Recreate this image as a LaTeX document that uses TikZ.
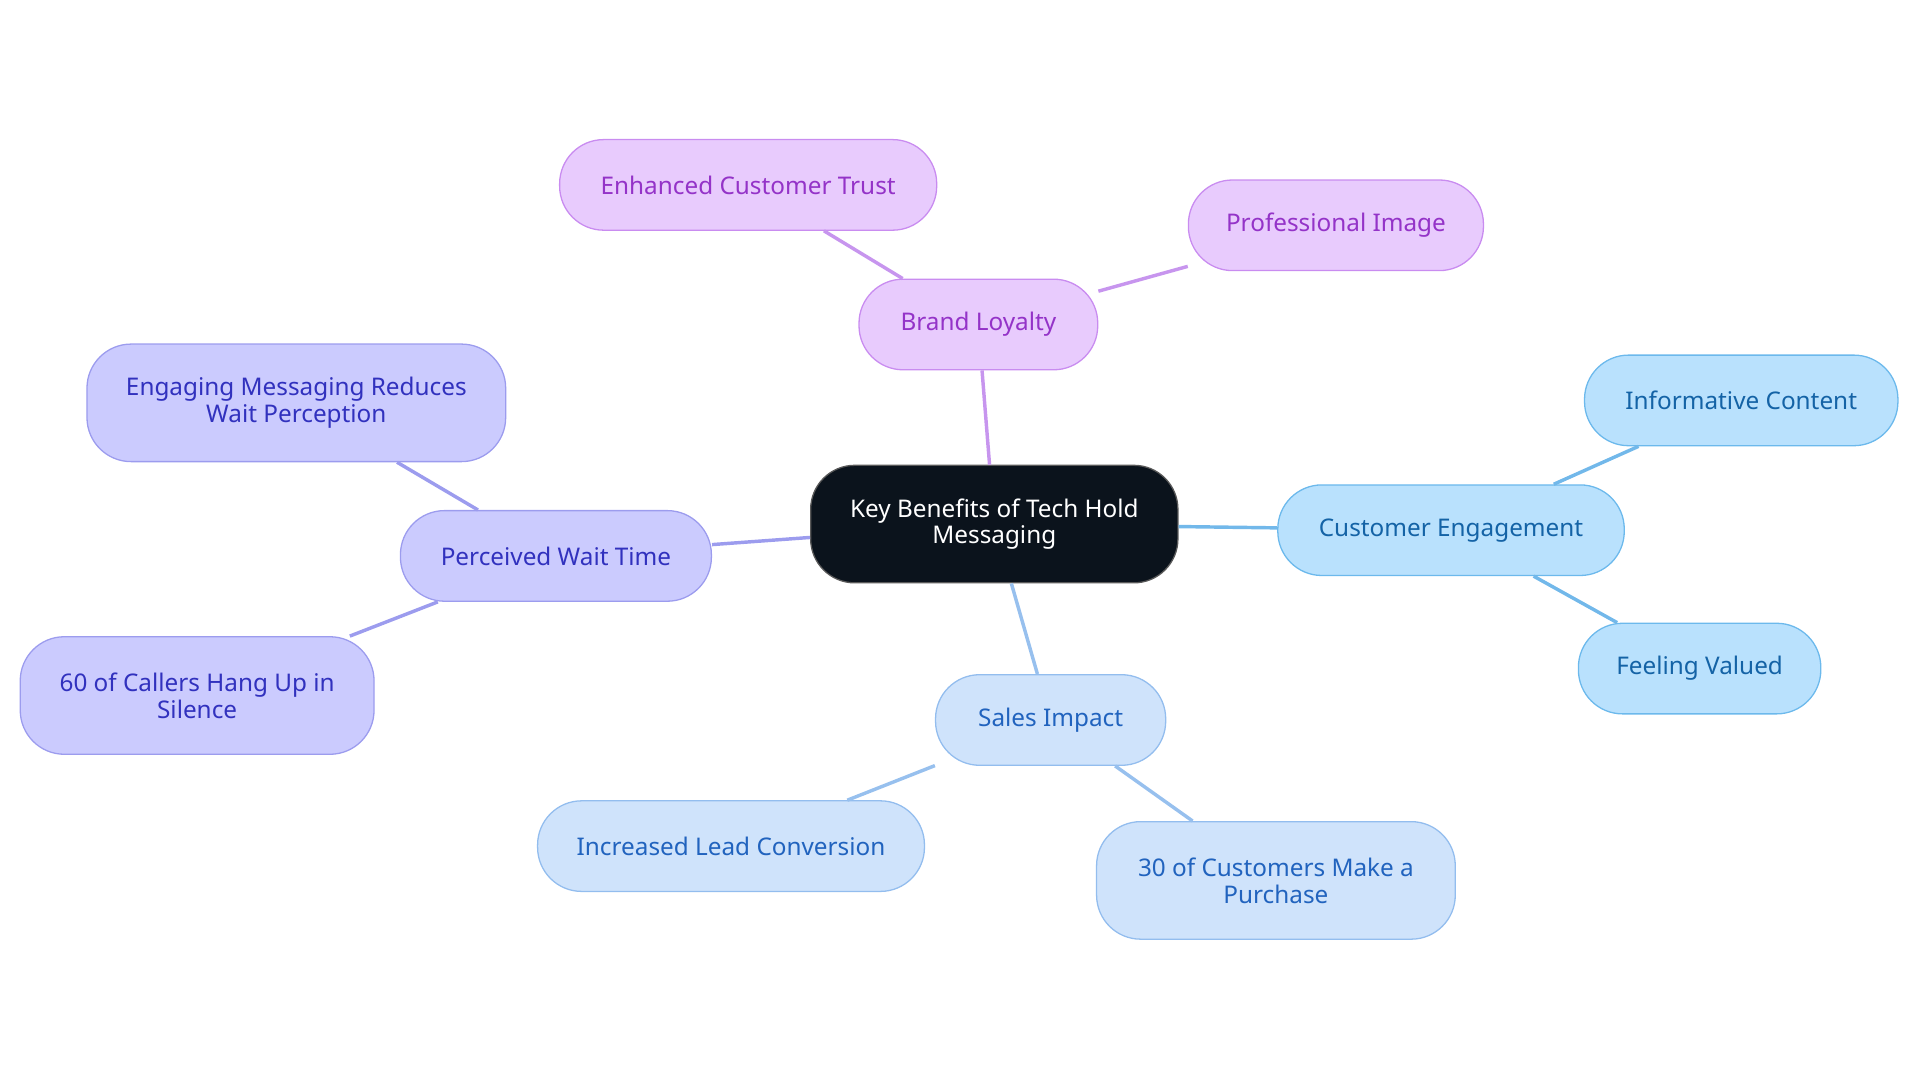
\documentclass[tikz,border=0pt]{standalone}
\usepackage{fontspec}
\setmainfont{Noto Sans}
\begin{document}
\begin{tikzpicture}[x=0.02cm,y=-0.02cm,
  base/.style={rounded corners=0.72cm,draw,line width=0.6pt,align=center,font=\fontsize{11.3}{12.5}\selectfont,inner sep=0pt,minimum height=1.48cm},
  tall/.style={minimum height=1.92cm},
  pu/.style={base,fill=pfill,draw=pdraw,text=ptext},
  cy/.style={base,fill=cfill,draw=cdraw,text=ctext},
  bl/.style={base,fill=bfill,draw=bdraw,text=btext},
  vi/.style={base,fill=vfill,draw=vdraw,text=vtext},
  lk/.style={line width=1.6pt}]
\definecolor{pfill}{HTML}{E8CBFD}\definecolor{pdraw}{HTML}{C98CF0}\definecolor{ptext}{HTML}{9433C8}
\definecolor{cfill}{HTML}{B9E1FD}\definecolor{cdraw}{HTML}{6CB9EC}\definecolor{ctext}{HTML}{1463A6}
\definecolor{bfill}{HTML}{CFE3FB}\definecolor{bdraw}{HTML}{93BDEE}\definecolor{btext}{HTML}{2163BE}
\definecolor{vfill}{HTML}{CBCBFE}\definecolor{vdraw}{HTML}{9C9CEE}\definecolor{vtext}{HTML}{3131BE}
\definecolor{dark}{HTML}{0B131C}
\definecolor{plk}{HTML}{C795EE}\definecolor{clk}{HTML}{72B8EA}\definecolor{blk}{HTML}{97C0EE}\definecolor{vlk}{HTML}{9C9CEE}
\useasboundingbox (0,0) rectangle (1568,884);
\node[base,tall,fill=dark,draw=gray!70!black,text=white,minimum width=6cm] (c) at (812,428) {Key Benefits of Tech Hold\\Messaging};
\node[pu,minimum width=3.9cm] (bl) at (799,265) {Brand Loyalty};
\node[pu,minimum width=6.16cm] (ect) at (611,151) {Enhanced Customer Trust};
\node[pu,minimum width=4.82cm] (pi) at (1091,184) {Professional Image};
\node[cy,minimum width=5.66cm] (ce) at (1185,433) {Customer Engagement};
\node[cy,minimum width=5.12cm] (ic) at (1422,327) {Informative Content};
\node[cy,minimum width=3.96cm] (fv) at (1388,546) {Feeling Valued};
\node[bl,minimum width=3.76cm] (si) at (858,588) {Sales Impact};
\node[bl,minimum width=6.32cm] (ilc) at (597,691) {Increased Lead Conversion};
\node[bl,tall,minimum width=5.86cm] (cmp) at (1042,719) {30 of Customers Make a\\Purchase};
\node[vi,minimum width=5.08cm] (pwt) at (454,454) {Perceived Wait Time};
\node[vi,tall,minimum width=6.84cm] (em) at (242,329) {Engaging Messaging Reduces\\Wait Perception};
\node[vi,tall,minimum width=5.78cm] (cal) at (161,568) {60 of Callers Hang Up in\\Silence};
\begin{scope}[on background layer/.code={}]
\end{scope}
\draw[lk,plk] (c) -- (bl);
\draw[lk,plk] (bl) -- (ect);
\draw[lk,plk] (bl) -- (pi);
\draw[lk,clk] (c) -- (ce);
\draw[lk,clk] (ce) -- (ic);
\draw[lk,clk] (ce) -- (fv);
\draw[lk,blk] (c) -- (si);
\draw[lk,blk] (si) -- (ilc);
\draw[lk,blk] (si) -- (cmp);
\draw[lk,vlk] (c) -- (pwt);
\draw[lk,vlk] (pwt) -- (em);
\draw[lk,vlk] (pwt) -- (cal);
\end{tikzpicture}
\end{document}
